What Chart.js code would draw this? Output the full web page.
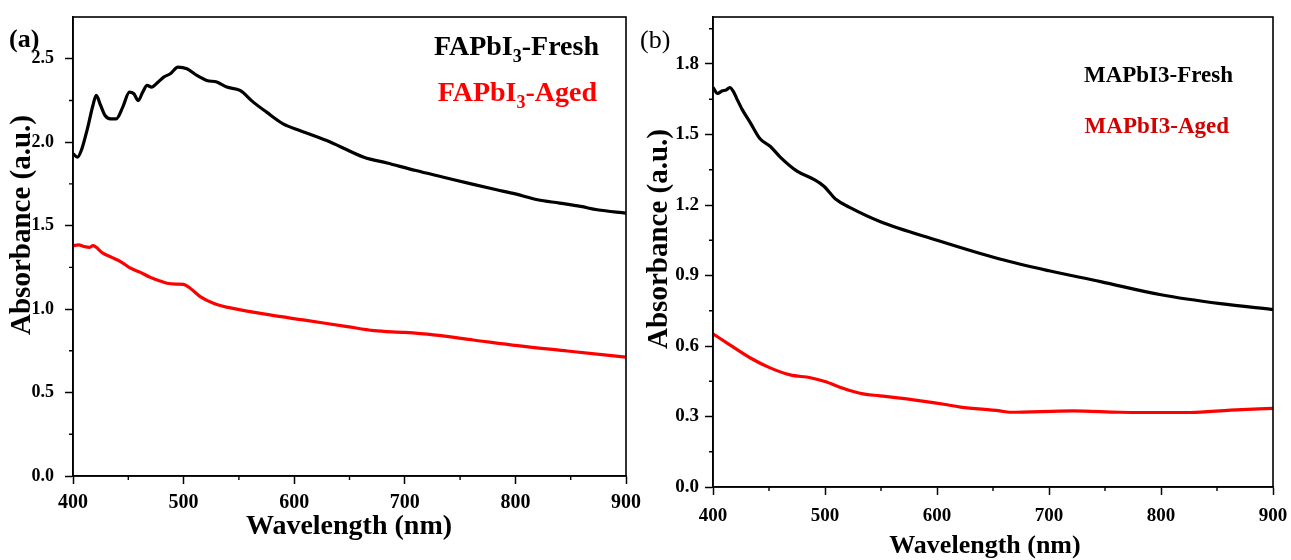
<!DOCTYPE html>
<html>
<head>
<meta charset="utf-8">
<script src="https://cdn.jsdelivr.net/npm/chart.js@4.4.1/dist/chart.umd.min.js"></script>
<style>
    body { margin: 0; background: #fff; }
    #wrap { position: relative; width: 1291px; height: 560px; overflow: hidden; }
    canvas { position: absolute; top: 0; }
    #chart_a { left: 0; }
    #chart_b { left: 630px; }
</style>
</head>
<body>
<div id="wrap">
    <canvas id="chart_a" width="645" height="560"></canvas>
    <canvas id="chart_b" width="661" height="560"></canvas>
</div>
<script>
// ---- data ----
const faFreshWl  = [400, 404, 408, 413, 418, 421, 425, 429, 434, 439, 445, 451, 455, 459, 463, 467, 471, 477, 482, 488, 495, 503, 512, 521, 530, 539, 551, 563, 575, 590, 605, 633, 663, 684, 710, 735, 760, 783, 800, 820, 840, 859, 874, 900];
const faFreshAbs = [1.93, 1.91, 1.96, 2.08, 2.22, 2.28, 2.22, 2.16, 2.14, 2.14, 2.21, 2.30, 2.29, 2.25, 2.30, 2.34, 2.33, 2.36, 2.39, 2.41, 2.45, 2.44, 2.40, 2.37, 2.36, 2.33, 2.31, 2.24, 2.18, 2.11, 2.07, 2.00, 1.91, 1.875, 1.83, 1.79, 1.75, 1.715, 1.69, 1.655, 1.635, 1.615, 1.595, 1.575];

const faAgedWl  = [400, 405, 410, 415, 418, 427, 435, 443, 452, 461, 470, 478, 485, 493, 500, 506, 515, 527, 540, 548, 578, 608, 648, 672, 700, 726, 762, 802, 847, 900];
const faAgedAbs = [1.38, 1.385, 1.375, 1.37, 1.38, 1.335, 1.31, 1.285, 1.245, 1.22, 1.19, 1.17, 1.155, 1.15, 1.148, 1.125, 1.075, 1.035, 1.01, 1.00, 0.965, 0.935, 0.895, 0.871, 0.86, 0.845, 0.815, 0.781, 0.749, 0.712];

const maFreshWl  = [400, 404, 408, 412, 415, 418, 421, 426, 433, 442, 451, 460, 475, 490, 499, 510, 522, 549, 600, 656, 700, 746, 800, 853, 900];
const maFreshAbs = [1.70, 1.675, 1.685, 1.69, 1.70, 1.685, 1.655, 1.607, 1.553, 1.482, 1.45, 1.404, 1.344, 1.309, 1.28, 1.223, 1.19, 1.13, 1.05, 0.97, 0.92, 0.874, 0.818, 0.78, 0.755];

const maAgedWl  = [400, 415, 433, 451, 469, 487, 500, 516, 534, 549, 579, 609, 621, 656, 665, 721, 763, 786, 826, 862, 900];
const maAgedAbs = [0.652, 0.605, 0.55, 0.507, 0.477, 0.465, 0.449, 0.42, 0.396, 0.388, 0.371, 0.35, 0.34, 0.324, 0.318, 0.324, 0.318, 0.317, 0.317, 0.327, 0.335];

// ---- tick labels ----
const xTicks = [400, 500, 600, 700, 800, 900];
const xMinor = [450, 550, 650, 750, 850];
const yTicksA = [0, 0.5, 1.0, 1.5, 2.0, 2.5];
const yMinorA = [0.25, 0.75, 1.25, 1.75, 2.25];
const yTicksB = [0, 0.3, 0.6, 0.9, 1.2, 1.5, 1.8];
const yMinorB = [0.15, 0.45, 0.75, 1.05, 1.35, 1.65, 1.95];

const SERIF = "'Liberation Serif', 'Times New Roman', serif";
Chart.defaults.font.family = SERIF;
Chart.defaults.color = '#000';

const toPoints = (xs, ys) => xs.map((x, i) => ({ x: x, y: ys[i] }));

// keep the plot area exactly where layout.padding puts it
const noPad = s => { s.paddingLeft = 0; s.paddingRight = 0; s.paddingTop = 0; s.paddingBottom = 0; };

// frame box, minor ticks and texts (axis titles, labels)
const framePlugin = {
    id: 'frame',
    afterDraw(chart, args, opts) {
        const { ctx, chartArea: a, scales } = chart;
        ctx.save();
        ctx.strokeStyle = '#000';
        ctx.lineWidth = 1.6;
        ctx.strokeRect(a.left, a.top, a.right - a.left, a.bottom - a.top);

        ctx.lineWidth = 1.4;
        ctx.beginPath();
        opts.xMinor.forEach(v => {
            const px = scales.x.getPixelForValue(v);
            ctx.moveTo(px, a.bottom);
            ctx.lineTo(px, a.bottom + 4);
        });
        opts.yMinor.forEach(v => {
            const py = scales.y.getPixelForValue(v);
            ctx.moveTo(a.left, py);
            ctx.lineTo(a.left - 4, py);
        });
        ctx.stroke();

        // texts: list of parts [text, isSubscript]
        opts.texts.forEach(t => {
            const big = `${t.weight} ${t.size}px ${SERIF}`;
            const small = `${t.weight} ${Math.round(t.size * 0.65)}px ${SERIF}`;
            let total = 0;
            t.parts.forEach(p => {
                ctx.font = p[1] ? small : big;
                total += ctx.measureText(p[0]).width;
            });
            ctx.save();
            ctx.translate(t.x, t.y);
            if (t.rotate) ctx.rotate(-Math.PI / 2);
            let x = t.align === 'right' ? -total : (t.align === 'center' ? -total / 2 : 0);
            ctx.fillStyle = t.color;
            ctx.textBaseline = t.middle ? 'middle' : 'alphabetic';
            ctx.textAlign = 'left';
            t.parts.forEach(p => {
                ctx.font = p[1] ? small : big;
                ctx.fillText(p[0], x, p[1] ? t.size * 0.25 : 0);
                x += ctx.measureText(p[0]).width;
            });
            ctx.restore();
        });
        ctx.restore();
    }
};

const makeChart = (id, cfg) => new Chart(document.getElementById(id), {
    type: 'line',
    data: {
        datasets: [
            {
                label: 'Fresh',
                data: cfg.fresh,
                borderColor: '#000',
                borderWidth: 3.2,
                pointRadius: 0,
                cubicInterpolationMode: 'monotone'
            },
            {
                label: 'Aged',
                data: cfg.aged,
                borderColor: '#ff0000',
                borderWidth: 3.2,
                pointRadius: 0,
                cubicInterpolationMode: 'monotone'
            }
        ]
    },
    options: {
        responsive: false,
        animation: false,
        layout: { padding: { left: 0, top: 17, right: cfg.padRight, bottom: 0 } },
        plugins: {
            legend: { display: false },
            tooltip: { enabled: false },
            frame: { xMinor: xMinor, yMinor: cfg.yMinor, texts: cfg.texts }
        },
        scales: {
            x: {
                type: 'linear',
                min: 400,
                max: 900,
                afterBuildTicks: s => { s.ticks = xTicks.map(v => ({ value: v })); },
                afterFit: s => { s.height = cfg.xHeight; noPad(s); },
                ticks: {
                    font: { size: cfg.xTickSize, weight: 'bold' },
                    color: '#000',
                    padding: cfg.xTickPad,
                    maxRotation: 0,
                    callback: v => v
                },
                grid: { drawOnChartArea: false, tickLength: 8, tickColor: '#000', tickWidth: 1.5 },
                border: { color: '#000', width: 1.6 }
            },
            y: {
                min: 0,
                max: cfg.yMax,
                afterBuildTicks: s => { s.ticks = cfg.yTicks.map(v => ({ value: v })); },
                afterFit: s => { s.width = cfg.yWidth; noPad(s); },
                ticks: {
                    font: { size: cfg.yTickSize, weight: 'bold' },
                    color: '#000',
                    padding: cfg.yTickPad,
                    callback: v => v.toFixed(1)
                },
                grid: { drawOnChartArea: false, tickLength: 8, tickColor: '#000', tickWidth: 1.5 },
                border: { color: '#000', width: 1.6 }
            }
        }
    },
    plugins: [framePlugin]
});

makeChart('chart_a', {
    fresh: toPoints(faFreshWl, faFreshAbs),
    aged: toPoints(faAgedWl, faAgedAbs),
    yMax: 2.75,
    yTicks: yTicksA,
    yMinor: yMinorA,
    padRight: 19,
    xHeight: 84,
    yWidth: 73,
    xTickSize: 20,
    yTickSize: 18,
    xTickPad: 7,
    yTickPad: 11,
    texts: [
        { parts: [['(a)', 0]], x: 9, y: 47, size: 26, weight: 'bold', color: '#000', align: 'left' },
        { parts: [['Wavelength (nm)', 0]], x: 349, y: 527, size: 28, weight: 'bold', color: '#000', align: 'center', middle: true },
        { parts: [['Absorbance (a.u.)', 0]], x: 23, y: 225, size: 29, weight: 'bold', color: '#000', align: 'center', rotate: true, middle: true },
        { parts: [['FAPbI', 0], ['3', 1], ['-Fresh', 0]], x: 599, y: 55, size: 28, weight: 'bold', color: '#000', align: 'right' },
        { parts: [['FAPbI', 0], ['3', 1], ['-Aged', 0]], x: 597, y: 101, size: 28, weight: 'bold', color: '#ff0000', align: 'right' }
    ]
});

makeChart('chart_b', {
    fresh: toPoints(maFreshWl, maFreshAbs),
    aged: toPoints(maAgedWl, maAgedAbs),
    yMax: 2.0,
    yTicks: yTicksB,
    yMinor: yMinorB,
    padRight: 18,
    xHeight: 73,
    yWidth: 83,
    xTickSize: 19,
    yTickSize: 19,
    xTickPad: 10,
    yTickPad: 6,
    texts: [
        { parts: [['(b)', 0]], x: 10, y: 48, size: 26, weight: 'normal', color: '#000', align: 'left' },
        { parts: [['Wavelength (nm)', 0]], x: 355, y: 546, size: 26, weight: 'bold', color: '#000', align: 'center', middle: true },
        { parts: [['Absorbance (a.u.)', 0]], x: 30, y: 239, size: 29, weight: 'bold', color: '#000', align: 'center', rotate: true, middle: true },
        { parts: [['MAPbI3-Fresh', 0]], x: 603, y: 82, size: 23, weight: 'bold', color: '#000', align: 'right' },
        { parts: [['MAPbI3-Aged', 0]], x: 599, y: 133, size: 23, weight: 'bold', color: '#d40000', align: 'right' }
    ]
});
</script>
</body>
</html>
